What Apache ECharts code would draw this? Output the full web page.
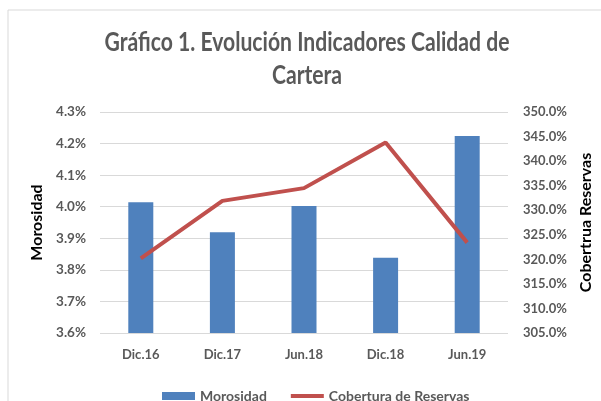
<!DOCTYPE html>
<html>
<head>
<meta charset="utf-8">
<script src="https://cdn.jsdelivr.net/npm/echarts@6/dist/echarts.min.js"></script>
<style>
  html, body { margin: 0; padding: 0; background: #fff; }
  #main { width: 601px; height: 401px; }
</style>
</head>
<body>
<div id="main"></div>
<script>
// datos del gráfico
var periodos = ['Dic.16', 'Dic.17', 'Jun.18', 'Dic.18', 'Jun.19'];
var morosidad = [4.014, 3.919, 4.002, 3.838, 4.224];
var cobertura = [320.2, 331.9, 334.5, 343.8, 323.4];
var titulo = ['Gráfico 1. Evolución Indicadores Calidad de', 'Cartera'];

var gris = '#595959';
var fuente = 'Lato';

// el título original es una fuente estrecha: se comprime en horizontal
var fuenteTitulo = 'bold 26px Lato';
var ctx = document.createElement('canvas').getContext('2d');
ctx.font = fuenteTitulo;
var escala = 405 / ctx.measureText(titulo[0]).width;

var myChart = echarts.init(document.getElementById('main'));
var option = {
    animation: false,
    graphic: [{
        type: 'rect',
        shape: { x: 8, y: 10, width: 620, height: 420 },
        style: { fill: 'none', stroke: '#d9d9d9', lineWidth: 1 },
        silent: true
    }, {
        type: 'text',
        x: 307,
        y: 26,
        scaleX: escala,
        silent: true,
        style: {
            text: titulo.join('\n'),
            font: fuenteTitulo,
            lineHeight: 33,
            fill: gris,
            align: 'center',
            verticalAlign: 'top'
        }
    }],
    legend: {
        top: 384,
        left: 157,
        itemGap: 24,
        itemWidth: 33,
        itemHeight: 8,
        textStyle: { fontFamily: fuente, fontWeight: 'bold', fontSize: 14, color: gris },
        data: [
            { name: 'Morosidad', icon: 'rect' },
            { name: 'Cobertura de Reservas', icon: 'path://M0,3 L34,3 L34,7 L0,7 Z' }
        ]
    },
    grid: { left: 100, right: 93, top: 112, bottom: 68, outerBoundsMode: 'none', containLabel: false },
    xAxis: {
        type: 'category',
        data: periodos,
        axisLine: { show: false },
        axisTick: { show: false },
        axisLabel: { fontFamily: fuente, fontWeight: 'bold', fontSize: 13, color: gris, margin: 15 }
    },
    yAxis: [{
        type: 'value',
        min: 3.6,
        max: 4.3,
        interval: 0.1,
        name: 'Morosidad',
        nameLocation: 'middle',
        nameRotate: 90,
        nameGap: 49,
        nameTextStyle: { fontFamily: fuente, fontWeight: 'bold', fontSize: 16, color: '#000' },
        axisLabel: {
            fontFamily: fuente, fontWeight: 'bold', fontSize: 13.5, color: gris, margin: 14,
            formatter: function (v) { return v.toFixed(1) + '%'; }
        },
        splitLine: { lineStyle: { color: '#d9d9d9', width: 1 } }
    }, {
        type: 'value',
        min: 305,
        max: 350,
        interval: 5,
        name: 'Cobertrua Reservas',
        nameLocation: 'middle',
        nameRotate: 90,
        nameGap: 69,
        nameTextStyle: { fontFamily: fuente, fontWeight: 'bold', fontSize: 16, color: '#000' },
        axisLabel: {
            fontFamily: fuente, fontWeight: 'bold', fontSize: 13, color: gris, margin: 15,
            formatter: function (v) { return v.toFixed(1) + '%'; }
        },
        splitLine: { show: false }
    }],
    series: [{
        name: 'Morosidad',
        type: 'bar',
        yAxisIndex: 0,
        barWidth: 25,
        itemStyle: { color: '#4f81bd' },
        data: morosidad
    }, {
        name: 'Cobertura de Reservas',
        type: 'line',
        yAxisIndex: 1,
        symbol: 'none',
        lineStyle: { color: '#c0504d', width: 4 },
        itemStyle: { color: '#c0504d' },
        data: cobertura
    }]
};
myChart.setOption(option);
</script>
</body>
</html>
